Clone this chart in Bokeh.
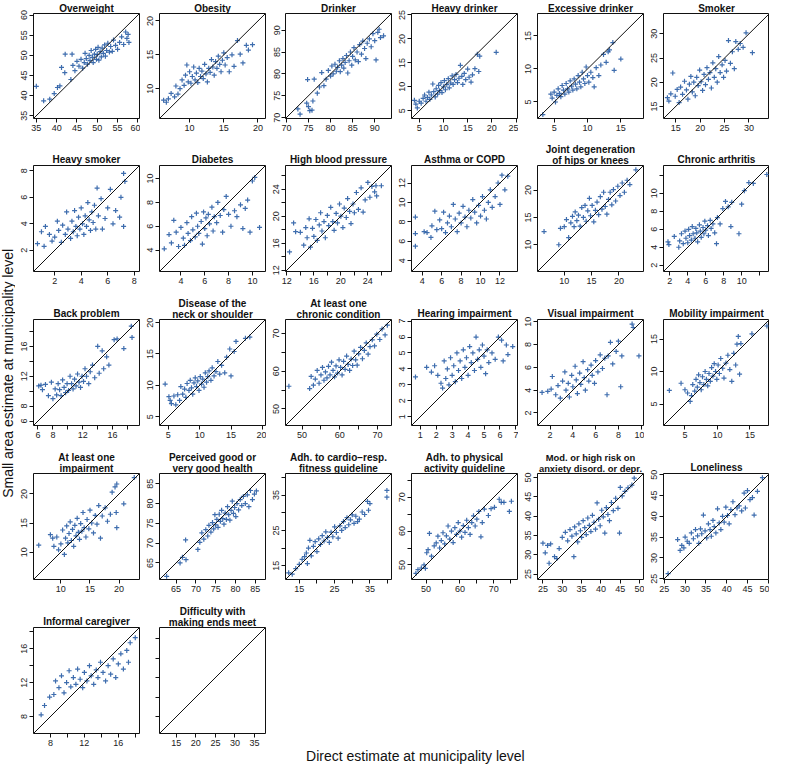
import math
from bokeh.plotting import figure
from bokeh.models import Range1d, LinearAxis, FixedTicker, Slope, Label, Title, ColumnDataSource, Spacer
from bokeh.layouts import row, column
from bokeh.embed import file_html
from bokeh.resources import INLINE

FONT = "Liberation Sans"
BLUE = "#1c54a0"

# ---------------- data (direct estimate, small area estimate) ----------------
OVERWEIGHT = [(35.0,42.3),(36.8,38.7),(38.3,39.1),(39.4,40.5),(40.2,42.0),(40.8,42.4),(41.2,47.0),(42.0,45.7),(42.1,50.3),(43.8,50.3),(43.5,44.0),(44.0,47.5),(44.5,46.2),(45.0,48.5),(45.5,47.3),(46.0,49.0),(46.4,46.8),(46.8,48.2),(47.0,50.5),(47.3,49.2),(47.6,47.8),(48.0,50.0),(48.2,48.7),(48.5,51.2),(48.8,49.5),(49.0,48.2),(49.3,50.3),(49.6,51.5),(49.8,49.0),(50.0,50.2),(50.2,52.0),(50.4,48.8),(50.7,50.9),(51.0,49.6),(51.2,51.8),(51.5,50.5),(51.8,52.6),(52.0,49.8),(52.3,51.2),(52.6,53.0),(53.0,50.8),(53.3,52.2),(53.7,51.0),(54.0,53.8),(54.5,52.5),(55.0,51.5),(55.5,53.2),(56.0,54.6),(56.5,52.7),(57.0,55.8),(57.3,54.2),(57.8,53.2),(57.6,55.2)]
OBESITY = [(6.2,8.3),(6.6,8.0),(6.9,8.5),(7.3,9.3),(7.8,8.8),(8.0,10.4),(8.3,9.2),(8.6,10.0),(8.9,11.3),(9.2,10.5),(9.4,12.0),(9.6,13.5),(9.8,11.0),(10.0,12.5),(10.2,10.8),(10.4,11.8),(10.6,13.2),(10.8,11.3),(11.0,12.3),(11.2,10.9),(11.4,13.0),(11.6,11.8),(11.8,12.6),(12.0,11.5),(12.2,13.6),(12.4,12.2),(12.6,11.0),(12.8,13.0),(13.0,12.4),(13.2,14.3),(13.4,13.2),(13.6,12.0),(13.8,14.0),(14.0,13.0),(14.2,14.8),(14.4,13.6),(14.6,12.5),(14.8,14.2),(15.0,15.3),(15.2,13.5),(15.5,14.6),(15.8,12.5),(16.2,15.0),(16.5,13.3),(17.0,17.1),(17.4,15.1),(17.8,13.8),(18.3,16.4),(18.6,15.7),(19.2,16.5)]
DRINKER = [(72.6,72.0),(73.1,70.8),(74.6,73.3),(75.0,72.5),(75.3,71.6),(75.8,71.7),(76.0,73.8),(74.8,78.7),(76.3,78.8),(77.0,75.6),(77.5,77.0),(78.0,80.3),(78.5,77.3),(79.0,78.8),(79.5,80.8),(80.0,79.5),(80.3,81.8),(80.6,80.0),(81.0,82.2),(81.3,80.6),(81.6,81.5),(82.0,83.0),(82.2,80.5),(82.5,82.0),(82.8,83.5),(83.0,81.3),(83.3,82.6),(83.6,84.2),(83.9,80.2),(84.2,83.0),(84.5,85.0),(84.8,82.0),(85.0,84.0),(85.3,86.0),(85.6,83.2),(86.0,85.0),(86.3,82.8),(86.6,86.7),(87.0,84.5),(87.3,87.5),(87.7,85.8),(88.0,83.5),(88.3,87.0),(88.8,88.0),(89.2,86.2),(89.6,89.2),(90.0,87.6),(90.3,83.2),(90.7,89.5),(91.3,88.3),(92.0,88.7),(91.0,90.2)]
HEAVY_DRINKER = [(4.0,7.2),(4.3,6.4),(4.6,5.6),(5.0,7.0),(5.4,6.6),(5.8,7.6),(6.1,8.3),(6.4,7.0),(6.7,7.8),(7.0,8.9),(7.2,7.4),(7.5,8.3),(7.8,10.6),(8.0,9.0),(8.3,7.9),(8.5,9.6),(8.8,8.5),(9.0,10.3),(9.2,9.2),(9.5,10.9),(9.7,8.8),(10.0,10.0),(10.2,11.3),(10.4,9.4),(10.7,10.5),(11.0,11.7),(11.2,9.8),(11.5,10.8),(11.8,12.3),(12.0,10.5),(12.3,11.5),(12.6,12.6),(12.9,10.9),(13.2,11.8),(13.5,14.5),(13.8,12.2),(14.0,10.5),(14.3,12.8),(14.6,11.5),(15.0,13.7),(15.3,12.0),(15.7,11.0),(16.0,12.5),(16.5,13.8),(17.0,16.8),(17.5,16.4),(17.3,13.2),(20.9,17.2)]
EXCESSIVE = [(3.3,3.1),(4.5,6.2),(4.7,5.6),(5.0,6.5),(5.2,5.0),(5.4,6.0),(5.6,7.0),(5.8,6.3),(6.0,5.8),(6.2,7.5),(6.4,6.8),(6.6,6.2),(6.8,7.8),(7.0,7.0),(7.2,6.5),(7.4,8.2),(7.6,7.4),(7.8,6.8),(8.0,8.5),(8.2,7.7),(8.4,7.0),(8.6,9.0),(8.8,8.0),(9.0,7.3),(9.2,9.5),(9.4,8.5),(9.6,7.8),(9.8,10.3),(10.0,9.0),(10.2,8.0),(10.5,9.5),(10.8,8.7),(11.0,7.3),(11.3,10.2),(11.7,9.0),(12.0,10.6),(12.4,12.2),(12.8,11.0),(13.1,12.6),(13.3,12.9),(13.8,14.0),(14.0,9.8),(15.0,11.5)]
SMOKER = [(13.3,16.8),(13.6,16.1),(14.0,17.6),(14.4,21.9),(14.9,17.1),(15.3,18.5),(15.7,15.8),(16.0,19.0),(16.4,17.5),(16.8,20.2),(17.2,18.4),(17.5,16.5),(17.8,19.6),(18.1,21.2),(18.4,18.0),(18.7,20.0),(19.0,17.2),(19.3,21.0),(19.6,19.3),(19.9,22.5),(20.2,20.1),(20.5,18.3),(20.8,21.6),(21.1,19.5),(21.4,23.0),(21.7,20.6),(22.0,22.0),(22.3,18.8),(22.6,24.0),(22.9,21.0),(23.2,22.8),(23.5,20.0),(23.8,25.3),(24.1,22.0),(24.5,23.6),(24.8,21.0),(25.1,24.5),(25.4,22.3),(25.8,28.6),(26.2,23.9),(26.6,26.3),(27.0,22.8),(27.3,28.4),(27.8,26.8),(28.2,28.0),(28.8,27.2),(29.4,30.2),(30.7,26.1)]
HEAVY_SMOKER = [(0.7,2.5),(1.0,3.4),(1.2,2.3),(1.3,3.8),(1.6,3.2),(1.8,2.7),(2.0,3.0),(2.2,4.2),(2.3,3.5),(2.5,2.6),(2.6,3.9),(2.8,3.2),(2.9,4.9),(3.0,3.6),(3.2,2.9),(3.3,4.2),(3.4,3.4),(3.5,5.0),(3.6,3.8),(3.7,3.1),(3.8,4.5),(3.9,3.6),(4.0,5.2),(4.1,4.0),(4.2,3.2),(4.3,4.6),(4.4,3.8),(4.5,5.6),(4.6,4.3),(4.7,3.5),(4.8,4.9),(4.9,4.1),(5.0,5.4),(5.1,3.6),(5.2,6.7),(5.3,4.6),(5.5,5.9),(5.6,3.6),(5.8,4.4),(6.0,5.2),(6.2,6.6),(6.4,4.0),(6.6,5.0),(6.9,4.5),(7.0,6.0),(7.2,3.8),(7.3,7.2),(7.2,7.8)]
DIABETES = [(2.6,4.1),(3.0,5.3),(3.2,4.6),(3.4,6.5),(3.6,5.5),(3.8,4.3),(4.0,5.9),(4.2,5.0),(4.3,4.4),(4.5,6.3),(4.6,5.4),(4.8,4.8),(4.9,6.8),(5.0,5.7),(5.2,5.1),(5.3,7.1),(5.4,6.0),(5.5,5.4),(5.7,6.4),(5.8,4.5),(5.9,7.2),(6.0,5.8),(6.1,6.7),(6.2,5.2),(6.3,7.0),(6.4,6.2),(6.6,7.6),(6.7,5.6),(6.8,6.8),(7.0,6.3),(7.1,8.0),(7.3,6.9),(7.5,5.5),(7.6,7.4),(7.8,8.5),(8.0,7.0),(8.2,6.0),(8.5,7.3),(8.7,6.8),(9.0,7.8),(9.2,5.8),(9.4,7.5),(9.8,5.5),(10.0,9.8),(10.2,10.1),(10.6,5.9),(9.6,8.2)]
HBP = [(12.4,14.7),(13.0,19.0),(13.3,17.7),(14.0,17.6),(14.5,15.7),(14.8,18.3),(15.0,16.8),(15.3,19.6),(15.5,15.4),(15.8,18.2),(16.0,17.0),(16.3,19.5),(16.5,16.4),(16.8,18.7),(17.0,20.5),(17.2,17.8),(17.5,19.2),(17.7,16.8),(18.0,20.1),(18.2,18.6),(18.5,21.3),(18.8,19.2),(19.0,17.9),(19.3,20.4),(19.5,19.0),(19.8,21.8),(20.0,20.0),(20.3,18.3),(20.5,21.2),(20.8,19.8),(21.0,22.6),(21.3,20.7),(21.5,18.9),(21.8,21.8),(22.0,20.5),(22.3,23.5),(22.6,21.0),(23.0,24.2),(23.3,20.6),(23.6,22.4),(24.0,25.0),(24.3,22.8),(24.6,24.4),(25.0,23.6),(25.2,24.5),(26.0,24.5),(25.3,23.0)]
ASTHMA = [(3.3,8.5),(3.3,6.8),(3.3,5.5),(4.2,7.0),(4.5,6.9),(4.9,6.4),(5.0,7.6),(5.3,9.1),(5.5,7.2),(5.8,8.2),(6.0,7.3),(6.2,9.0),(6.4,6.9),(6.6,7.9),(6.8,8.6),(7.0,7.5),(7.2,9.8),(7.4,8.3),(7.6,7.0),(7.8,8.9),(8.0,7.9),(8.2,9.6),(8.4,8.5),(8.6,7.5),(8.8,9.2),(9.0,8.4),(9.2,10.3),(9.4,9.0),(9.6,7.9),(9.8,9.7),(10.0,8.6),(10.2,10.6),(10.4,9.2),(10.6,8.3),(10.8,10.0),(11.0,11.3),(11.2,9.5),(11.5,10.6),(11.8,12.0),(12.0,9.8),(12.2,12.8),(12.5,11.3),(12.8,12.7)]
JOINT = [(6.3,12.4),(9.0,10.0),(9.3,13.0),(10.0,13.3),(10.4,14.6),(10.8,11.3),(11.2,14.0),(11.5,15.2),(11.8,13.3),(12.0,16.0),(12.3,14.4),(12.6,15.4),(12.9,13.4),(13.2,16.8),(13.5,15.0),(13.8,17.2),(14.0,14.3),(14.3,16.2),(14.6,18.5),(14.8,15.3),(15.1,17.2),(15.4,14.2),(15.7,16.3),(16.0,17.8),(16.3,15.5),(16.6,18.8),(16.9,16.5),(17.2,19.6),(17.5,17.0),(17.8,15.6),(18.1,18.3),(18.4,19.6),(18.7,17.3),(19.0,20.1),(19.4,18.0),(19.8,20.7),(20.2,19.0),(20.6,21.3),(21.0,19.6),(21.5,21.8),(22.0,21.0),(23.1,23.7)]
ARTHRITIS = [(1.8,4.6),(1.9,4.3),(2.5,5.2),(3.0,4.0),(3.1,4.7),(3.3,5.5),(3.5,4.4),(3.7,5.8),(3.8,5.0),(4.0,4.5),(4.1,6.0),(4.2,5.3),(4.4,4.8),(4.5,6.3),(4.6,5.5),(4.8,5.0),(4.9,6.1),(5.0,5.6),(5.1,4.6),(5.3,6.5),(5.4,5.8),(5.5,5.1),(5.7,6.2),(5.8,5.5),(5.9,6.9),(6.0,5.9),(6.2,6.4),(6.3,5.3),(6.5,7.0),(6.6,6.1),(6.8,6.6),(7.0,5.6),(7.2,4.4),(7.3,7.3),(7.6,6.6),(7.9,8.3),(8.2,9.1),(8.5,8.5),(8.9,9.0),(8.8,6.3),(9.7,5.5),(10.0,8.8),(10.3,10.3),(10.8,11.2),(11.3,11.1),(12.8,12.1)]
BACK = [(6.1,10.7),(6.4,10.8),(6.6,10.2),(7.0,10.9),(7.4,9.4),(7.8,11.2),(8.0,9.0),(8.3,10.3),(8.5,9.5),(8.7,11.0),(8.9,10.2),(9.1,9.4),(9.3,11.5),(9.5,10.5),(9.7,9.8),(9.9,11.0),(10.1,10.1),(10.3,12.0),(10.5,11.0),(10.7,10.3),(10.9,11.6),(11.1,10.7),(11.3,12.3),(11.5,11.2),(11.7,10.5),(11.9,12.0),(12.1,11.3),(12.3,13.0),(12.5,12.0),(12.8,11.0),(13.0,12.6),(13.3,13.5),(13.6,11.8),(14.0,16.0),(14.2,12.4),(14.6,15.4),(14.8,13.0),(15.2,14.6),(15.5,13.5),(16.2,16.9),(16.6,17.0),(17.5,15.7),(18.5,18.7),(18.6,17.2)]
NECK = [(4.5,10.2),(5.1,8.2),(5.3,7.6),(5.5,7.1),(5.9,8.3),(6.2,6.9),(6.5,8.5),(6.8,7.6),(7.0,9.8),(7.3,8.6),(7.6,9.4),(7.8,8.1),(8.0,10.3),(8.3,9.2),(8.5,10.8),(8.7,9.6),(8.9,8.6),(9.1,10.4),(9.3,11.2),(9.5,9.8),(9.7,10.7),(9.9,9.2),(10.1,11.4),(10.3,10.2),(10.5,11.0),(10.7,9.7),(10.9,12.0),(11.1,10.5),(11.3,11.4),(11.5,12.3),(11.8,10.8),(12.0,12.8),(12.3,11.5),(12.6,12.2),(12.9,13.8),(13.2,11.8),(13.5,13.2),(14.0,12.0),(14.3,14.5),(14.8,15.8),(15.0,11.5),(15.5,15.4),(15.8,17.0),(17.3,17.5),(18.0,17.7)]
CHRONIC = [(46.5,56.0),(52.0,55.4),(52.4,58.6),(53.0,56.3),(53.5,57.9),(54.0,60.2),(54.5,56.8),(55.0,59.0),(55.4,61.0),(55.8,57.6),(56.2,59.8),(56.6,58.2),(57.0,61.3),(57.4,59.0),(57.8,62.4),(58.2,60.2),(58.6,58.5),(59.0,61.4),(59.4,59.5),(59.8,63.0),(60.2,61.0),(60.6,59.0),(61.0,62.6),(61.4,60.5),(61.8,64.0),(62.2,61.8),(62.6,60.2),(63.0,63.2),(63.4,61.5),(63.8,65.3),(64.2,63.0),(64.6,61.6),(65.0,64.6),(65.5,66.3),(66.0,63.3),(66.5,65.5),(67.0,67.5),(67.5,64.5),(68.0,66.5),(68.6,68.3),(69.2,66.7),(69.8,69.8),(70.6,68.4),(71.2,71.2),(72.0,69.6),(72.6,72.2)]
HEARING = [(0.7,3.5),(1.4,4.1),(1.7,3.8),(1.9,4.2),(2.1,3.6),(2.3,3.1),(2.4,2.8),(2.5,4.5),(2.6,3.4),(2.7,4.0),(2.8,3.0),(2.9,4.7),(3.0,3.6),(3.1,4.2),(3.2,3.2),(3.3,5.0),(3.4,3.9),(3.5,4.5),(3.6,3.4),(3.7,5.2),(3.8,4.1),(3.9,4.7),(4.0,3.6),(4.1,5.4),(4.2,4.4),(4.3,5.0),(4.4,3.9),(4.5,6.0),(4.6,4.6),(4.7,5.2),(4.8,4.1),(4.9,5.5),(5.0,4.8),(5.1,3.7),(5.2,5.2),(5.3,4.4),(5.5,5.0),(5.7,4.6),(5.9,6.0),(6.1,5.8),(6.2,4.5),(6.4,5.5),(6.5,4.9),(6.8,5.4)]
VISUAL = [(1.3,3.8),(1.8,3.9),(2.1,4.1),(2.2,5.2),(2.5,3.6),(2.7,4.4),(2.9,3.3),(3.1,4.8),(3.3,5.6),(3.4,4.0),(3.6,4.6),(3.7,3.4),(3.9,5.3),(4.0,4.3),(4.2,6.1),(4.3,4.9),(4.4,3.7),(4.6,5.5),(4.7,4.5),(4.9,6.5),(5.0,5.1),(5.1,4.0),(5.3,5.8),(5.4,4.8),(5.6,6.2),(5.7,5.3),(5.9,4.6),(6.0,6.6),(6.2,5.6),(6.4,7.1),(6.6,5.9),(6.8,6.8),(7.0,3.6),(7.1,7.0),(7.3,8.2),(7.5,6.3),(7.8,7.4),(8.0,8.3),(8.2,4.3),(8.3,7.0),(9.2,9.8),(9.3,9.5),(9.8,7.0)]
MOBILITY = [(2.6,7.1),(4.4,8.2),(5.0,7.2),(5.4,6.7),(5.8,5.4),(6.0,6.3),(6.2,8.0),(6.5,7.0),(6.7,8.8),(6.9,7.6),(7.1,9.5),(7.3,8.3),(7.5,7.2),(7.7,9.2),(7.9,8.0),(8.1,10.0),(8.3,8.8),(8.5,7.8),(8.7,9.7),(8.9,8.5),(9.1,10.6),(9.3,9.3),(9.5,11.2),(9.7,10.0),(9.9,8.8),(10.1,11.0),(10.3,9.7),(10.5,12.0),(10.8,10.5),(11.0,9.0),(11.3,11.3),(11.6,12.5),(11.9,10.3),(12.2,8.5),(12.5,12.8),(12.8,11.0),(13.0,14.2),(13.2,15.4),(13.4,9.6),(13.6,14.3),(15.3,15.8),(17.6,17.0)]
IMPAIRMENT = [(6.2,11.2),(8.2,13.0),(8.6,12.4),(8.8,11.0),(9.3,12.6),(9.6,10.4),(10.0,11.4),(10.3,13.8),(10.6,9.6),(10.8,12.4),(11.0,14.5),(11.2,11.6),(11.4,13.2),(11.6,15.2),(11.8,12.0),(12.0,13.9),(12.2,11.0),(12.4,14.6),(12.6,12.8),(12.8,15.8),(13.0,13.4),(13.2,12.2),(13.4,14.9),(13.6,13.6),(13.8,16.8),(14.0,14.2),(14.3,12.6),(14.5,15.6),(14.8,14.0),(15.0,17.2),(15.3,15.0),(15.6,13.3),(15.9,16.3),(16.2,14.8),(16.5,18.0),(16.8,12.4),(17.1,16.2),(17.6,17.6),(18.0,15.3),(18.5,16.5),(18.8,20.3),(19.3,21.2),(19.5,16.8),(19.6,14.2),(19.6,21.7),(20.8,18.3),(22.6,22.8)]
HEALTH = [(62.6,61.6),(66.0,65.0),(66.6,66.4),(67.5,65.8),(67.4,70.8),(70.5,68.4),(71.0,70.2),(71.5,72.6),(72.0,71.0),(72.5,73.4),(73.0,71.8),(73.3,74.5),(73.8,72.8),(74.2,75.2),(74.5,73.6),(74.8,77.2),(75.0,74.6),(75.3,76.0),(75.6,74.0),(75.9,77.3),(76.2,75.5),(76.5,78.3),(76.8,76.2),(77.1,74.8),(77.4,77.6),(77.7,76.0),(78.0,79.2),(78.3,77.2),(78.6,75.8),(78.9,78.3),(79.2,80.6),(79.5,77.5),(79.8,79.0),(80.1,76.7),(80.4,80.0),(80.8,78.4),(81.2,81.0),(81.6,79.5),(82.0,81.8),(82.5,80.0),(83.0,82.2),(83.4,79.2),(83.8,83.3),(84.3,81.0),(84.8,82.4),(85.3,83.2)]
CARDIO = [(12.0,13.0),(13.0,12.6),(14.0,14.2),(15.0,15.4),(15.8,16.8),(16.5,17.6),(17.0,18.6),(17.3,15.6),(17.6,20.0),(18.0,22.2),(18.4,17.8),(19.0,20.5),(19.5,21.8),(20.0,19.0),(20.5,22.6),(21.0,21.0),(21.5,23.5),(22.0,22.0),(22.5,24.6),(23.0,23.0),(23.5,21.6),(24.0,24.5),(24.5,23.2),(25.0,26.0),(25.5,24.4),(26.0,22.8),(26.5,26.3),(27.0,25.0),(27.5,27.5),(28.0,25.8),(28.5,28.6),(29.0,26.6),(29.5,28.0),(30.0,29.4),(30.5,27.0),(31.0,29.0),(31.5,27.5),(32.0,28.2),(32.8,30.2),(33.5,29.5),(34.3,33.2),(34.6,30.7),(35.0,32.6),(39.8,36.3),(39.8,34.4)]
PHYSICAL = [(47.0,47.5),(47.6,48.6),(48.6,49.1),(49.4,50.0),(49.8,49.0),(50.2,53.6),(50.6,54.5),(51.0,59.3),(51.6,52.6),(52.4,55.6),(53.0,56.5),(53.5,58.5),(54.0,55.0),(54.5,57.2),(55.0,59.5),(55.5,56.2),(56.0,58.6),(56.5,61.5),(57.0,57.6),(57.5,60.0),(58.0,56.6),(58.5,61.0),(59.0,59.0),(59.5,62.5),(60.0,60.0),(60.5,58.2),(61.0,61.6),(61.5,59.6),(62.0,63.2),(62.5,61.0),(63.0,59.0),(63.5,62.5),(64.0,64.5),(64.5,61.5),(65.0,63.5),(65.6,65.8),(66.2,58.3),(66.6,62.5),(67.2,66.5),(68.4,64.6),(69.2,66.6),(70.2,67.0),(71.6,69.4),(72.2,68.5),(73.0,68.5),(74.6,65.8),(75.2,68.8)]
ANXIETY = [(25.0,33.0),(25.6,30.5),(26.2,32.4),(26.6,27.8),(27.0,32.8),(28.0,29.5),(28.6,29.0),(29.2,31.6),(30.0,34.5),(30.8,35.8),(31.4,33.6),(32.0,36.5),(32.5,34.8),(33.0,29.5),(33.2,37.2),(33.6,35.4),(34.0,33.3),(34.3,38.0),(34.7,36.2),(35.0,34.5),(35.4,38.8),(35.8,37.0),(36.2,35.2),(36.6,39.5),(37.0,37.6),(37.4,36.0),(37.8,40.2),(38.2,38.4),(38.6,36.6),(39.0,43.4),(39.4,39.2),(39.8,37.5),(40.2,41.5),(40.6,39.8),(41.0,35.6),(41.4,42.2),(41.8,40.4),(42.2,38.8),(42.7,43.5),(43.2,41.4),(43.8,44.6),(44.4,42.0),(44.8,35.6),(45.0,47.4),(45.5,45.2),(46.2,46.4),(47.0,47.3),(48.0,48.0),(48.6,49.8)]
LONELINESS = [(25.9,26.2),(28.2,34.4),(28.8,31.8),(29.2,33.0),(29.7,32.4),(30.0,35.0),(30.5,34.0),(31.0,33.5),(31.5,36.0),(32.0,34.6),(32.5,36.8),(33.0,35.3),(33.3,33.5),(33.7,37.0),(34.0,35.8),(34.4,40.3),(34.8,36.5),(35.2,34.8),(35.6,38.2),(36.0,36.8),(36.3,35.2),(36.7,39.0),(37.0,37.5),(37.4,36.0),(37.8,41.8),(38.2,38.4),(38.6,36.8),(39.0,40.0),(39.4,38.6),(39.8,42.2),(40.2,40.2),(40.6,38.2),(41.0,41.6),(41.5,43.5),(42.0,40.4),(42.5,42.0),(43.0,42.5),(43.6,41.3),(44.2,45.6),(44.5,42.0),(45.0,46.2),(45.6,44.0),(46.2,44.5),(46.6,40.3),(47.4,46.0),(48.6,49.3)]
CAREGIVER = [(6.9,8.2),(7.3,9.3),(7.9,10.3),(8.4,10.6),(8.6,12.2),(9.0,11.4),(9.3,12.8),(9.6,10.8),(9.9,12.0),(10.2,13.4),(10.4,11.5),(10.7,12.6),(11.0,11.8),(11.2,13.6),(11.5,12.4),(11.8,11.4),(12.0,13.2),(12.3,12.2),(12.6,14.0),(12.8,12.8),(13.1,11.8),(13.4,13.5),(13.6,12.6),(13.9,14.4),(14.2,13.2),(14.5,12.2),(14.8,14.0),(15.1,13.0),(15.4,14.8),(15.7,12.6),(16.0,14.2),(16.3,15.4),(16.6,13.6),(17.0,15.8),(17.4,16.7),(17.2,14.4),(18.0,17.3)]
ENDS_MEET = []

# (title, points, axis limits, tick positions, labelled ticks x, labelled ticks y)
PANELS = [
    ("Overweight", OVERWEIGHT, (34.3, 60.4), [35, 40, 45, 50, 55, 60], None, None),
    ("Obesity", OBESITY, (5.6, 21.1), [10, 15, 20], None, None),
    ("Drinker", DRINKER, (69.8, 93.8), [70, 75, 80, 85, 90], None, None),
    ("Heavy drinker", HEAVY_DRINKER, (3.4, 25.3), [5, 10, 15, 20, 25], None, None),
    ("Excessive drinker", EXCESSIVE, (2.5, 18.4), [5, 10, 15], None, None),
    ("Smoker", SMOKER, (12.5, 34.2), [15, 20, 25, 30], None, None),
    ("Heavy smoker", HEAVY_SMOKER, (0.4, 8.4), [2, 4, 6, 8], None, None),
    ("Diabetes", DIABETES, (2.2, 11.1), [4, 6, 8, 10], None, None),
    ("High blood pressure", HBP, (11.8, 27.5), [12, 14, 16, 18, 20, 22, 24, 26], [12, 16, 20, 24], [12, 16, 20, 24]),
    ("Asthma or COPD", ASTHMA, (2.9, 13.8), [4, 6, 8, 10, 12], None, None),
    ("Joint degeneration\nof hips or knees", JOINT, (5.1, 24.5), [10, 15, 20], None, None),
    ("Chronic arthritis", ARTHRITIS, (1.3, 13.1), [2, 4, 6, 8, 10, 12], [2, 4, 6, 8, 10], [2, 4, 6, 8, 10]),
    ("Back problem", BACK, (5.4, 19.6), [6, 8, 10, 12, 14, 16, 18], [6, 8, 12, 16], [6, 8, 12, 16]),
    ("Disease of the\nneck or shoulder", NECK, (3.6, 20.5), [5, 10, 15, 20], None, None),
    ("At least one\nchronic condition", CHRONIC, (45.6, 73.7), [50, 55, 60, 65, 70], [50, 60, 70], [50, 60, 70]),
    ("Hearing impairment", HEARING, (0.45, 7.1), [1, 2, 3, 4, 5, 6, 7], None, None),
    ("Visual impairment", VISUAL, (0.9, 10.2), [2, 4, 6, 8, 10], None, None),
    ("Mobility impairment", MOBILITY, (1.7, 18.0), [5, 10, 15], None, None),
    ("At least one\nimpairment", IMPAIRMENT, (5.3, 23.5), [10, 15, 20], None, None),
    ("Perceived good or\nvery good health", HEALTH, (60.8, 87.6), [65, 70, 75, 80, 85], None, None),
    ("Adh. to cardio\u2212resp.\nfitness guideline", CARDIO, (11.1, 41.1), [15, 20, 25, 30, 35, 40], [15, 25, 35], [15, 25, 35]),
    ("Adh. to physical\nactivity guideline", PHYSICAL, (45.7, 77.0), [50, 55, 60, 65, 70, 75], [50, 60, 70], [50, 60, 70]),
    ("Mod. or high risk on\nanxiety disord. or depr.", ANXIETY, (23.6, 51.0), [25, 30, 35, 40, 45, 50], None, None),
    ("Loneliness", LONELINESS, (24.8, 50.3), [25, 30, 35, 40, 45, 50], None, None),
    ("Informal caregiver", CAREGIVER, (6.0, 18.5), [8, 10, 12, 14, 16, 18], [8, 12, 16], [8, 12, 16]),
    ("Difficulty with\nmaking ends meet", ENDS_MEET, (10.7, 37.8), [15, 20, 25, 30, 35], [15, 20, 25, 30, 35], []),
]

Y_LABEL = "Small area estimate at municipality level"
X_LABEL = "Direct estimate at municipality level"

# ---------------- layout geometry ----------------
LEFT_W = 15
COL_BORDERS = [(18, 1), (19, 1), (19, 1), (19, 1), (19, 1), (19, 0)]
FRAME = 106
ROW_BORDERS = [(12, 18), (29, 19), (29, 19), (29, 19), (29, 31)]
XLAB_H = 17


def style_axis(ax, ticks, labeled):
    ax.ticker = FixedTicker(ticks=ticks)
    ax.axis_line_color = None
    ax.major_tick_line_color = "#111111"
    ax.major_tick_line_width = 1
    ax.major_tick_out = 4
    ax.major_tick_in = 0
    ax.minor_tick_line_color = None
    ax.major_label_text_font = FONT
    ax.major_label_text_font_size = "9px"
    ax.major_label_text_color = "#222222"
    ax.major_label_standoff = 2
    if labeled is not None:
        ax.major_label_overrides = {t: "" for t in ticks if t not in labeled}


def add_title(p, title, first_row):
    lines = title.split("\n")
    size = "9.4px" if max(len(s) for s in lines) > 21 else "10px"
    if len(lines) == 1:
        standoff = 0 if first_row else 2
    else:
        standoff = 0
    p.add_layout(Title(text=title, align="center", text_align="center",
                       text_font=FONT, text_font_size=size, text_font_style="bold",
                       text_color="#111111", standoff=standoff), "above")


def make_panel(spec, col, rw):
    title, pts, (lo, hi), ticks, lab_x, lab_y = spec
    bl, br = COL_BORDERS[col]
    bt, bb = ROW_BORDERS[rw]
    p = figure(width=bl + FRAME + br, height=bt + FRAME + bb, title=None,
               x_range=Range1d(lo, hi), y_range=Range1d(lo, hi),
               x_axis_type=None, y_axis_type=None,
               toolbar_location=None, output_backend="svg",
               min_border_left=bl, min_border_right=br,
               min_border_top=bt, min_border_bottom=bb)
    p.outline_line_color = "#111111"
    p.outline_line_width = 1
    p.background_fill_color = "white"
    p.border_fill_color = "white"

    xa = LinearAxis()
    style_axis(xa, ticks, lab_x)
    p.add_layout(xa, "below")
    ya = LinearAxis()
    style_axis(ya, ticks, lab_y)
    ya.major_label_orientation = "parallel"
    p.add_layout(ya, "left")

    p.add_layout(Slope(gradient=1, y_intercept=0, line_color="#111111", line_width=1))
    if pts:
        src = ColumnDataSource(dict(x=[a for a, b in pts], y=[b for a, b in pts]))
        p.scatter("x", "y", source=src, marker="cross", size=5,
                  line_color=BLUE, line_width=1.2, line_alpha=0.85)
    add_title(p, title, rw == 0)
    return p


rows = []
for r in range(5):
    figs = []
    for c in range(6):
        i = r * 6 + c
        if i < len(PANELS):
            figs.append(make_panel(PANELS[i], c, r))
    rows.append(figs)

total_h = sum(bt + FRAME + bb for bt, bb in ROW_BORDERS)
total_w = LEFT_W + sum(bl + FRAME + br for bl, br in COL_BORDERS)

# x-axis label: a small figure at the bottom of the empty part of the last row
row5_h = rows[4][0].height
rest_w = total_w - LEFT_W - sum(f.width for f in rows[4])
xlab = figure(width=rest_w, height=XLAB_H, title=None,
              x_range=Range1d(0, 1), y_range=Range1d(0, 1),
              x_axis_type=None, y_axis_type=None, toolbar_location=None,
              output_backend="svg", min_border=0)
xlab.outline_line_color = None
xlab.add_layout(Label(x=0.296, y=0.5, text=X_LABEL, text_align="center",
                      text_baseline="middle", text_font=FONT, text_font_size="14px",
                      text_color="#111111"))
rows[4].append(column(Spacer(width=rest_w, height=row5_h - XLAB_H), xlab))

left = figure(width=LEFT_W, height=total_h, title=None, x_range=Range1d(0, 1), y_range=Range1d(0, 1),
              x_axis_type=None, y_axis_type=None, toolbar_location=None,
              output_backend="svg", min_border=0)
left.outline_line_color = None
left.add_layout(Label(x=0.5, y=0.512, text=Y_LABEL, angle=math.pi / 2, text_align="center",
                      text_baseline="middle", text_font=FONT, text_font_size="14px",
                      text_color="#111111"))

layout = row(left, column(*[row(*fs) for fs in rows]))

open("out.html", "w").write(file_html(layout, INLINE, title="Small area vs direct estimates"))
